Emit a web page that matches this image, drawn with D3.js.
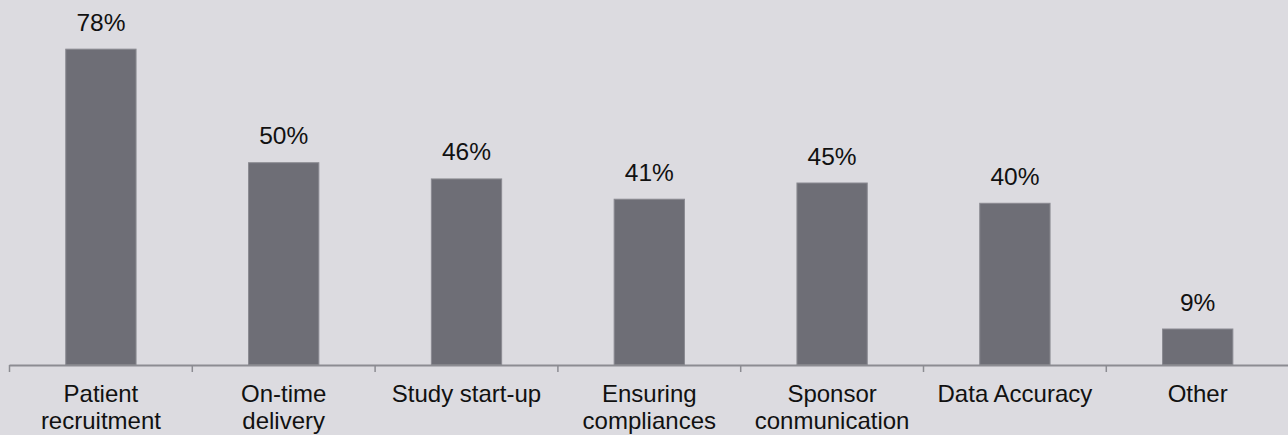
<!DOCTYPE html>
<html>
<head>
<meta charset="utf-8">
<script src="https://cdn.jsdelivr.net/npm/d3@7"></script>
<style>
  html, body { margin: 0; padding: 0; background: #dcdbe0; }
  svg { display: block; }
</style>
</head>
<body>
<script>
// Survey results: share of respondents naming each challenge
const categories = [
  ["Patient", "recruitment"],
  ["On-time", "delivery"],
  ["Study start-up"],
  ["Ensuring", "compliances"],
  ["Sponsor", "conmunication"],
  ["Data Accuracy"],
  ["Other"]
];
const values = [78, 50, 46, 41, 45, 40, 9];

const W = 1288, H = 435;
const axisY = 365;
const left = 9.5, step = 182.8;

const svg = d3.select("body").append("svg")
  .attr("width", W).attr("height", H);

svg.append("rect").attr("width", W).attr("height", H).attr("fill", "#dcdbe0");

const keys = categories.map(c => c.join(" "));
const x = d3.scaleBand()
  .domain(keys)
  .range([left, left + step * keys.length])
  .paddingInner(0.61)
  .paddingOuter(0.305);

const y = d3.scaleLinear().domain([0, 90]).range([axisY, 0]);

const font = "'Liberation Sans', Arial, sans-serif";

// Bars
svg.selectAll("rect.bar")
  .data(values)
  .join("rect")
  .attr("class", "bar")
  .attr("x", (d, i) => x(keys[i]) + 0.5)
  .attr("y", d => y(d) + 0.5)
  .attr("width", x.bandwidth() - 1)
  .attr("height", d => axisY - y(d) - 0.5)
  .attr("fill", "#6e6e76")
  .attr("stroke", "#8a8a91")
  .attr("stroke-width", 1);

// Value labels
svg.selectAll("text.val")
  .data(values)
  .join("text")
  .attr("class", "val")
  .attr("x", (d, i) => x(keys[i]) + x.bandwidth() / 2)
  .attr("y", d => y(d) - 18)
  .attr("text-anchor", "middle")
  .attr("font-family", font)
  .attr("font-size", 24.5)
  .attr("fill", "#111")
  .text(d => d + "%");

// Category axis with boundary ticks
const axisG = svg.append("g");
axisG.append("line")
  .attr("x1", left).attr("x2", W)
  .attr("y1", axisY + 0.5).attr("y2", axisY + 0.5)
  .attr("stroke", "#8c8c92").attr("stroke-width", 2);

const tickXs = d3.range(keys.length).map(i => x(keys[i]) - x.step() * x.paddingInner() / 2);
axisG.selectAll("line.tick")
  .data(tickXs)
  .join("line")
  .attr("class", "tick")
  .attr("x1", d => d).attr("x2", d => d)
  .attr("y1", axisY).attr("y2", axisY + 7)
  .attr("stroke", "#8c8c92").attr("stroke-width", 1.5);

// Category labels (wrapped onto two lines where needed)
const lab = svg.selectAll("text.cat")
  .data(categories)
  .join("text")
  .attr("class", "cat")
  .attr("text-anchor", "middle")
  .attr("font-family", font)
  .attr("font-size", 24)
  .attr("fill", "#111");

lab.each(function(lines, i) {
  const cx = x(keys[i]) + x.bandwidth() / 2;
  d3.select(this).selectAll("tspan")
    .data(lines)
    .join("tspan")
    .attr("x", cx)
    .attr("y", (d, j) => 401.5 + j * 27.5)
    .text(d => d);
});
</script>
</body>
</html>
